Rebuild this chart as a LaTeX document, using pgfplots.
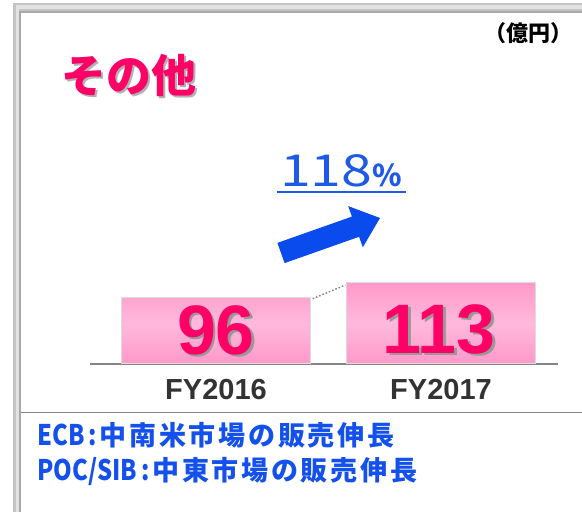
\documentclass[border=0pt]{standalone}
\usepackage{pgfplots}
\pgfplotsset{compat=1.18}
\usepackage{fontspec}
\setmainfont{Liberation Sans}
\newfontfamily\cjk{Noto Sans CJK JP}
\newfontfamily\cjksp{Noto Sans CJK JP}[LetterSpace=10]
\definecolor{hotpink}{HTML}{FF0066}
\definecolor{pinkA}{HTML}{FF98C9}
\definecolor{pinkB}{HTML}{FFB9DC}
\definecolor{barline}{HTML}{DCDCDC}
\definecolor{axgray}{HTML}{858585}
\definecolor{tickgray}{HTML}{333333}
\definecolor{blueA}{HTML}{0A4BEE}
\definecolor{blueT}{HTML}{1E5AE6}
\definecolor{blueB}{HTML}{1450EB}
\definecolor{frameA}{HTML}{C4C4C4}
\definecolor{frameB}{HTML}{E2E2E2}
\definecolor{frameC}{HTML}{A8A8A8}
\begin{document}
\begin{tikzpicture}[x=1pt,y=1pt]
\path[use as bounding box, fill=white] (0,0) rectangle (582,512);
% frame
\fill[frameA] (13,0) rectangle (21,509);
\fill[frameA] (13,499) rectangle (582,509);
\fill[frameB] (15.5,0) rectangle (18.5,506.5);
\fill[frameB] (15.5,503) rectangle (582,506.5);
\fill[frameC] (18.5,0) rectangle (21,501);
\fill[frameC] (18.5,499) rectangle (582,501);
% separator
\draw[axgray, line width=1.5pt] (21,99.3) -- (582,99.3);
% title
\node[gray!60, font=\cjk\bfseries\fontsize{45}{45}\selectfont] at (131,435) {その他};
\node[hotpink, font=\cjk\bfseries\fontsize{45}{45}\selectfont] at (129,437) {その他};
\node[black, font=\cjk\bfseries\fontsize{22}{22}\selectfont] at (528,479) {（億円）};
% growth
\node[blueT, anchor=base west, inner sep=0pt] at (280,325) {\cjk\fontsize{44}{44}\selectfont\scalebox{1.26}[1]{118}\bfseries\fontsize{30}{30}\selectfont\%};
\draw[blueT, line width=2pt] (277,320) -- (406,320);
\fill[blueA] (284.6,248.9) -- (277.4,269.1) -- (351.9,295.4) -- (348.2,305.9) -- (380,294) -- (362.8,264.7) -- (359.1,275.2) -- cycle;
\begin{axis}[
  at={(90pt,148pt)}, anchor=south west,
  scale only axis, width=468pt, height=164pt,
  xmin=-0.56, xmax=1.52, ymin=20, ymax=207,
  axis x line=bottom, axis y line=none,
  axis line style={-, axgray, line width=2pt},
  xtick={0,1}, xticklabels={FY2016,FY2017},
  major tick length=0pt,
  xticklabel style={font=\bfseries\fontsize{29}{29}\selectfont, text=tickgray, yshift=-12pt},
  clip=true,
]
\addplot[ybar, bar width=189pt, draw=barline, line width=1.2pt, top color=pinkA, bottom color=pinkA, middle color=pinkB] coordinates {(0,96) (1,113)};
\draw[gray, dotted, line width=1.5pt] (axis cs:0.43,94.5) -- (axis cs:0.575,110);
\node[gray!80, font=\bfseries\fontsize{70}{70}\selectfont] at (axis cs:0.012,56.5) {96};
\node[hotpink, font=\bfseries\fontsize{70}{70}\selectfont] at (axis cs:0,58) {96};
\node[gray!80, font=\bfseries\fontsize{70}{70}\selectfont] at (axis cs:1.003,57.5) {113};
\node[hotpink, font=\bfseries\fontsize{70}{70}\selectfont] at (axis cs:0.991,59) {113};
\end{axis}
% notes
\node[blueB, anchor=base west, inner sep=0pt] at (37,66) {\cjk\bfseries\fontsize{27}{27}\selectfont\scalebox{0.88}[1.05]{ECB\,:}\hspace{3pt}\cjksp 中南米市場の販売伸長};
\node[blueB, anchor=base west, inner sep=0pt] at (37,31) {\cjk\bfseries\fontsize{27}{27}\selectfont\scalebox{0.88}[1.05]{POC/SIB\,:}\hspace{3pt}\cjksp 中東市場の販売伸長};
\end{tikzpicture}
\end{document}
